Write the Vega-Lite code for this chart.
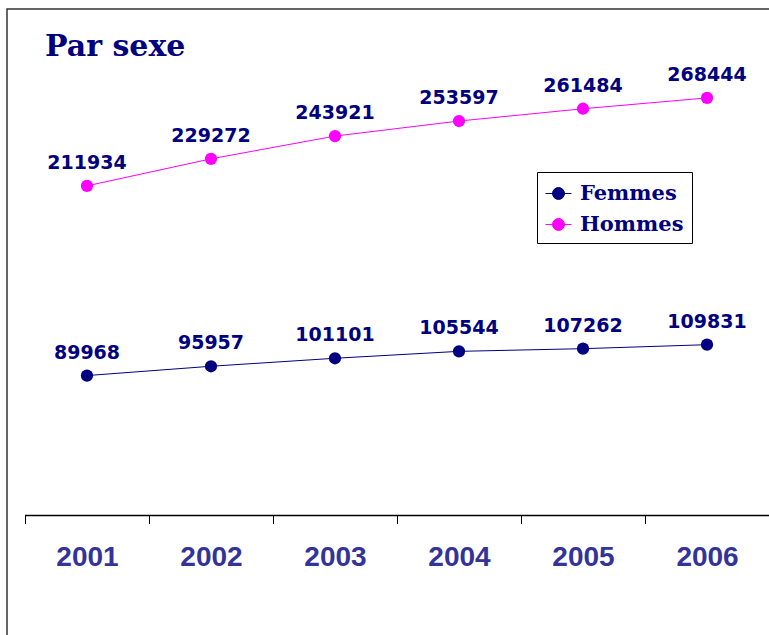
{
  "$schema": "https://vega.github.io/schema/vega-lite/v6.json",
  "width": 780,
  "height": 631,
  "autosize": {"type": "none"},
  "padding": {"left": 7, "top": 9, "right": 0, "bottom": 0},
  "background": "white",
  "config": {
    "view": {"stroke": "#333333", "strokeWidth": 1.5},
    "axis": {"grid": false}
  },
  "title": {
    "text": "Par sexe",
    "orient": "top",
    "anchor": "start",
    "frame": "group",
    "offset": -77,
    "dx": 38,
    "baseline": "alphabetic",
    "font": "DejaVu Serif",
    "fontSize": 30,
    "fontWeight": "bold",
    "color": "#000080"
  },
  "data": {
    "values": [
      {"year": "2001", "sexe": "Femmes", "value": 89968},
      {"year": "2002", "sexe": "Femmes", "value": 95957},
      {"year": "2003", "sexe": "Femmes", "value": 101101},
      {"year": "2004", "sexe": "Femmes", "value": 105544},
      {"year": "2005", "sexe": "Femmes", "value": 107262},
      {"year": "2006", "sexe": "Femmes", "value": 109831},
      {"year": "2001", "sexe": "Hommes", "value": 211934},
      {"year": "2002", "sexe": "Hommes", "value": 229272},
      {"year": "2003", "sexe": "Hommes", "value": 243921},
      {"year": "2004", "sexe": "Hommes", "value": 253597},
      {"year": "2005", "sexe": "Hommes", "value": 261484},
      {"year": "2006", "sexe": "Hommes", "value": 268444}
    ]
  },
  "encoding": {
    "x": {
      "field": "year",
      "type": "ordinal",
      "scale": {"paddingInner": 0, "paddingOuter": 0.145},
      "axis": {
        "title": null,
        "orient": "bottom",
        "offset": -124.5,
        "domain": false,
        "tickBand": "extent",
        "ticks": true,
        "tickSize": 8,
        "tickColor": "#000000",
        "tickWidth": 1,
        "labelAngle": 0,
        "labelFont": "Liberation Sans",
        "labelFontSize": 28,
        "labelFontWeight": "bold",
        "labelColor": "#333399",
        "labelPadding": 20
      }
    },
    "y": {
      "field": "value",
      "type": "quantitative",
      "scale": {"domain": [-80000, 325600], "nice": false, "zero": false},
      "axis": null
    }
  },
  "layer": [
    {
      "data": {"values": [{"a": "2001", "b": "2006", "v": 0}]},
      "mark": {"type": "rule", "color": "#000000", "strokeWidth": 1.5},
      "encoding": {
        "x": {"field": "a", "type": "ordinal", "bandPosition": 0},
        "x2": {"field": "b", "bandPosition": 1},
        "y": {"field": "v", "type": "quantitative"}
      }
    },
    {
      "mark": {"type": "line", "strokeWidth": 1},
      "encoding": {
        "color": {
          "field": "sexe",
          "type": "nominal",
          "scale": {"domain": ["Femmes", "Hommes"], "range": ["#000080", "#FF00FF"]},
          "legend": {
            "title": null,
            "orient": "none",
            "legendX": 530,
            "legendY": 163,
            "strokeColor": "#000000",
            "padding": 8,
            "symbolType": "M-1,0L1,0M-0.46,0A0.46,0.46 0 1,1 0.46,0A0.46,0.46 0 1,1 -0.46,0Z",
            "symbolSize": 676,
            "symbolStrokeWidth": 1,
            "labelFont": "DejaVu Serif",
            "labelFontSize": 21,
            "labelFontWeight": "bold",
            "labelColor": "#000080",
            "labelOffset": 8,
            "labelLimit": 300,
            "rowPadding": 7
          }
        }
      }
    },
    {
      "mark": {"type": "point", "filled": true, "size": 150, "opacity": 1},
      "encoding": {
        "color": {"field": "sexe", "type": "nominal"}
      }
    },
    {
      "mark": {
        "type": "text",
        "font": "DejaVu Sans",
        "fontSize": 19,
        "fontWeight": "bold",
        "color": "#000080",
        "baseline": "alphabetic",
        "align": "center",
        "dy": -17
      },
      "encoding": {
        "text": {"field": "value", "type": "nominal"}
      }
    }
  ]
}
